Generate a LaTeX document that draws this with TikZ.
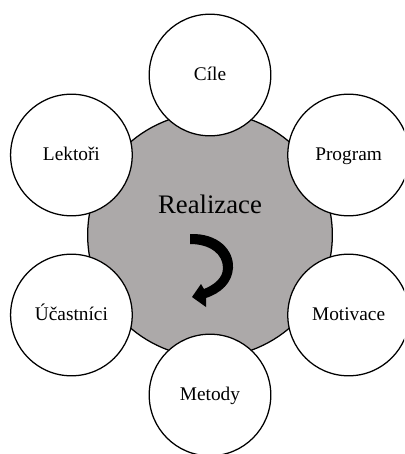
\documentclass[tikz,border=0pt]{standalone}
\usepackage{fontspec}
\setmainfont{Liberation Serif}
\definecolor{hubgray}{RGB}{172,169,169}
\begin{document}
\begin{tikzpicture}[x=0.025cm,y=-0.025cm,
  hub/.style={circle, draw=black, line width=0.9pt, fill=hubgray,
    minimum size=174pt, inner sep=0pt},
  part/.style={circle, draw=black, line width=0.9pt, fill=white,
    minimum size=86.5pt, inner sep=0pt,
    font=\fontsize{13.75}{16}\selectfont, text height=8.5pt, text depth=0pt},
  title/.style={font=\fontsize{19}{22}\selectfont, inner sep=0pt, anchor=base}]
% canvas
\clip (0,0) rectangle (404,454);
\fill[white] (0,0) rectangle (404,454);
% central disc
\node[hub] (hub) at (210,235) {};
% surrounding circles, 160 px from the centre
\node[part] (cile)     at (210,75)     {Cíle};
\node[part] (program)  at (348.6,155)  {Program};
\node[part] (motivace) at (348.6,315)  {Motivace};
\node[part] (metody)   at (210,395)    {Metody};
\node[part] (ucastnici) at (71.4,315)  {Účastníci};
\node[part] (lektori)  at (71.4,155)   {Lektoři};
% title
\node[title] (realizace) at (210,213) {Realizace};
% curved block arrow
\fill[black] (190,234) .. controls (218,233) and (234,250) .. (233,268)
  .. controls (232,283) and (221,293) .. (206,298)
  -- (206,307) -- (192,297) -- (201,284) -- (204,289)
  .. controls (214,285) and (223,278) .. (223,268)
  .. controls (223,254) and (210,244) .. (190,244) -- cycle;
\end{tikzpicture}
\end{document}
